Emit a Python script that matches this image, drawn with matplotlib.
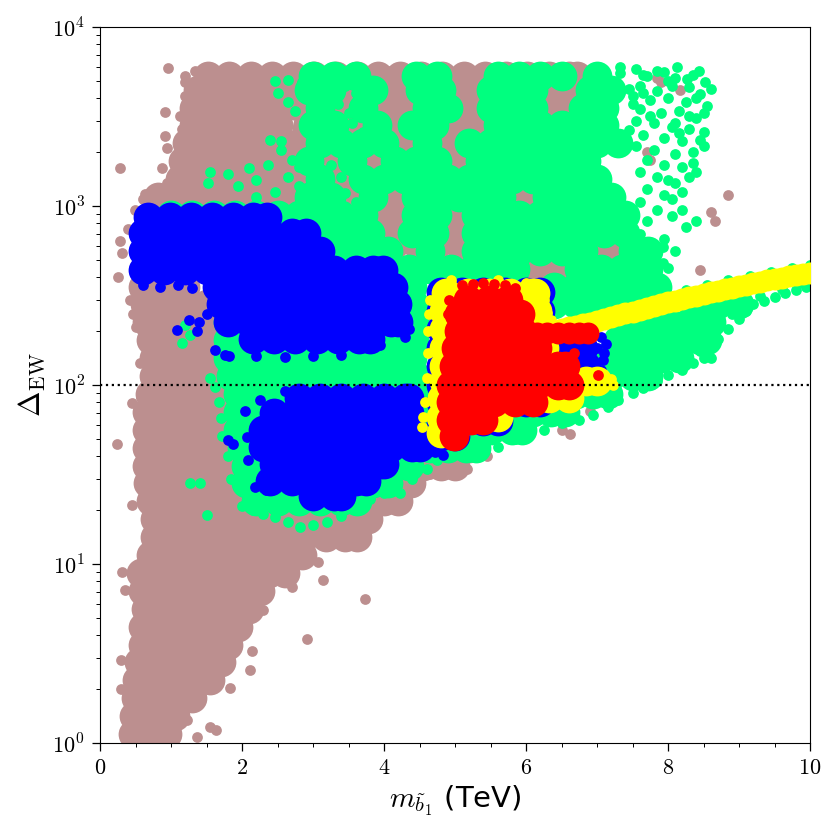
import matplotlib
matplotlib.use("Agg")
import matplotlib.pyplot as plt

plt.rcParams["mathtext.fontset"] = "cm"
plt.rcParams["font.family"] = ["DejaVu Sans"]

BROWN = "#bc8f8f"
GREEN = "#00ff7f"
BLUE = "#0000ff"
YELLOW = "#ffff00"
RED = "#ff0000"

x_ticks = [0, 2, 4, 6, 8, 10]
x_tick_labels = [r"$0$", r"$2$", r"$4$", r"$6$", r"$8$", r"$10$"]
y_ticks = [1, 10, 100, 1000, 10000]
y_tick_labels = [r"$10^{0}$", r"$10^{1}$", r"$10^{2}$", r"$10^{3}$", r"$10^{4}$"]
delta_cut = 100

# ---------------- brown (all points) ----------------
brown_dense_rows = [
    (1.12, [0.46, 0.76, 0.95]),
    (1.41, [0.48, 0.78, 1.05]),
    (1.78, [0.5, 0.8, 1.1, 1.3]),
    (2.24, [0.52, 0.82, 1.12, 1.42, 1.55]),
    (2.82, [0.55, 0.85, 1.15, 1.45, 1.7]),
    (3.55, [0.6, 0.9, 1.2, 1.5, 1.8]),
    (4.47, [0.6, 0.9, 1.2, 1.5, 1.8, 1.95]),
    (5.62, [0.65, 0.95, 1.25, 1.55, 1.85, 2.1]),
    (7.08, [0.6, 0.9, 1.2, 1.5, 1.8, 2.1, 2.25]),
    (8.91, [0.58, 0.88, 1.18, 1.48, 1.78, 2.08, 2.38, 2.6]),
    (11.2, [0.72, 1.02, 1.32, 1.62, 1.92, 2.22, 2.52, 2.85]),
    (14.1, [0.78, 1.08, 1.38, 1.68, 1.98, 2.28, 2.58, 2.88, 3.18, 3.45, 3.62]),
    (17.8, [0.78, 1.08, 1.38, 1.68, 1.98, 2.28, 2.58, 2.88, 3.18, 3.48, 3.78]),
    (22.4, [0.72, 1.02, 1.32, 1.62, 1.92, 2.22, 2.52, 2.82, 3.12, 3.42, 3.72, 4.0, 4.2]),
    (28.2, [0.68, 0.98, 1.28, 1.58, 1.88, 2.1, 3.9, 4.2, 4.38]),
    (35.5, [0.66, 0.96, 1.26, 1.56, 1.86, 4.55, 4.8, 5.0]),
    (44.7, [0.66, 0.96, 1.26, 1.56, 1.8, 5.2]),
    (56.2, [0.66, 0.96, 1.26, 1.56, 1.76]),
    (70.8, [0.66, 0.96, 1.26, 1.56, 1.76]),
    (89.1, [0.7, 1.0, 1.3, 1.6, 1.76]),
    (112, [0.76, 1.06, 1.36, 1.62]),
    (141, [0.76, 1.06, 1.36, 1.62]),
    (178, [0.72, 1.02, 1.32, 1.6]),
    (224, [0.66, 0.96, 1.26, 1.56]),
    (282, [0.63, 0.93, 1.23, 1.5]),
    (355, [0.6, 0.9, 1.2]),
    (1122, [0.82, 1.12, 1.42, 1.72, 2.02, 2.32, 2.6]),
    (1413, [1.12, 1.42, 1.72, 2.02, 2.32, 2.6]),
    (1778, [1.17, 1.47, 1.77, 2.07, 2.37, 2.6]),
    (2239, [1.22, 1.52, 1.82, 2.12, 2.42, 2.6]),
    (2818, [1.32, 1.62, 1.92, 2.22, 2.5]),
    (3548, [1.32, 1.62, 1.92, 2.22, 2.5]),
    (4467, [1.38, 1.68, 1.98, 2.28, 2.55]),
    (5300, [1.52, 1.82, 2.12, 2.42, 2.72, 3.02, 3.32, 3.62, 3.92, 4.22, 4.52,
             4.82, 5.12, 5.42, 5.72, 6.02, 6.32, 6.6, 6.72]),
]
brown_bulk_rows = [
    (4300, [2.8, 3.4, 4.0, 4.6, 5.2, 5.8, 6.4, 6.6]),
    (2700, [3.1, 3.7, 4.3, 4.9, 5.5, 6.1, 6.6]),
    (1700, [2.8, 3.4, 4.0, 4.6, 5.2, 5.8, 6.4, 6.6]),
    (1080, [3.1, 3.7, 4.3, 4.9, 5.5, 6.1, 6.6]),
    (680, [3.4, 4.0, 4.6, 5.2, 5.8, 6.4, 7.0]),
    (430, [6.1, 6.6, 7.1]),
]
brown_sparse_x = [0.96, 1.34, 1.2, 1.2, 1.2, 0.92, 1.13, 1.16, 0.92, 0.95, 0.87, 0.28, 0.95,
                  0.63, 0.73, 0.49, 0.6, 0.39, 0.31, 0.28, 0.25, 0.42, 0.47, 0.5, 0.68, 0.56,
                  0.24, 0.31, 0.35, 0.3, 0.3, 0.45, 0.58, 0.45,
                  1.36, 1.64, 1.55, 1.22, 1.83, 2.11, 2.14, 2.92, 3.73, 2.7, 3.07, 3.14, 2.3,
                  6.6, 7.85, 7.9, 8.17, 8.85, 8.6, 8.66, 8.45, 7.6, 7.75, 7.85, 7.56, 7.1, 7.3,
                  6.9, 6.5, 6.62, 5.17, 5.35, 4.5, 4.65, 4.83, 5.45, 7.75, 7.7]
brown_sparse_y = [5900, 5700, 5300, 4900, 4100, 3350, 3200, 2700, 2450, 2100, 1630, 1630, 1340,
                  1160, 1160, 950, 1100, 740, 546, 640, 400, 300, 250, 211, 186, 133,
                  47, 9.0, 7.2, 2.0, 2.9, 21.3, 86, 79,
                  1.08, 1.18, 1.23, 1.35, 2.03, 2.56, 3.27, 3.8, 6.4, 7.4, 10.3, 8.1, 5.5,
                  6000, 5200, 4900, 4450, 1150, 930, 820, 440, 420, 380, 350, 520, 470, 430,
                  72, 56, 53, 34, 41, 35, 32, 36, 40, 1800, 2000]

# ---------------- green ----------------
green_dense_rows = [
    (22.4, [2.2, 2.5, 2.8, 3.1, 3.4, 3.62]),
    (28.2, [2.05, 2.35, 2.65, 2.95, 3.25, 3.55, 3.85, 4.05]),
    (35.5, [2.05, 2.35, 2.65, 2.95, 3.25, 3.55, 3.85, 4.1, 4.35]),
    (44.7, [2.0, 2.3, 2.6, 2.9, 3.2, 3.5, 3.8, 4.1, 4.4, 4.65, 4.9, 5.15, 5.3]),
    (56.2, [1.95, 2.25, 2.55, 2.85, 3.15, 3.45, 3.75, 4.05, 4.35, 4.65, 4.95, 5.25,
            5.5, 5.8, 5.95]),
    (70.8, [1.95, 2.25, 2.55, 2.85, 3.15, 3.45, 3.75, 4.05, 4.35, 4.65, 4.95, 5.25,
            5.55, 5.85, 6.1, 6.35, 6.55]),
    (89.1, [1.95, 2.25, 2.55, 2.85, 3.15, 3.45, 3.75, 4.05, 4.35, 4.65, 4.95, 5.25,
            5.55, 5.85, 6.15, 6.45, 6.7, 6.95, 7.15]),
    (112, [1.85, 2.15, 2.45, 2.75, 3.05, 3.35, 3.65, 3.95, 4.25, 4.45, 6.9, 7.2, 7.5, 7.72]),
    (141, [1.8, 2.1, 2.4, 2.7, 3.0, 3.3, 3.6, 3.9, 4.2, 4.4, 7.0, 7.3, 7.6, 7.9, 8.15]),
    (178, [1.8, 2.0, 4.2, 4.42, 7.3, 7.6, 7.9, 8.2, 8.45, 8.55]),
    (224, [1.8, 4.42, 7.4, 7.7, 8.0, 8.3, 8.6]),
    (282, [1.75, 4.42, 6.4, 6.7, 7.0, 7.3, 7.6, 8.4, 8.7, 9.0]),
    (355, [4.4, 6.4, 6.7, 7.0, 7.3, 7.6, 7.85]),
    (447, [4.35, 4.65, 4.95, 5.25, 5.55, 5.85, 6.75, 7.05, 7.35, 7.72]),
    (562, [3.45, 3.75, 4.05, 4.65, 5.3, 5.6, 5.9, 6.2, 6.5, 6.8, 7.5, 7.72]),
    (708, [3.2, 3.5, 3.8, 4.4, 4.7, 5.3, 5.6, 5.9, 6.2, 6.5, 6.8, 7.1, 7.4]),
    (891, [1.0, 1.3, 1.6, 1.9, 2.2, 2.5, 2.8, 3.1, 3.4, 3.7, 4.45, 4.75, 5.3, 5.6,
           5.9, 6.2, 6.5, 6.8, 7.1, 7.4]),
    (1122, [2.95, 3.25, 3.85, 4.45, 4.75, 5.05, 5.35, 5.65, 6.3, 6.6, 6.9, 7.2]),
    (1413, [3.1, 3.7, 4.0, 4.3, 4.6, 4.9, 5.2, 5.5, 5.8, 6.1, 6.4, 6.7, 7.0]),
    (1778, [2.95, 3.55, 4.15, 4.45, 4.75, 5.35, 5.65, 5.95, 6.25, 6.55, 6.85]),
    (2239, [3.1, 3.4, 3.7, 4.0, 4.6, 5.2, 5.5, 5.8, 6.1, 6.4, 6.7, 7.0, 7.3]),
    (2818, [3.0, 3.3, 3.9, 4.4, 4.7, 5.6, 5.9, 6.2, 6.5, 6.8, 7.1]),
    (3548, [3.1, 3.7, 4.6, 4.9, 5.5, 5.8, 6.1, 6.8, 7.1]),
    (4467, [2.95, 3.25, 3.85, 4.5, 4.8, 5.5, 5.8, 6.1, 6.9, 7.2]),
    (5300, [3.0, 3.3, 3.6, 4.45, 4.75, 5.6, 5.9, 6.2, 6.5, 7.0]),
]
green_sparse_x = [2.0, 2.15, 2.3, 2.47, 2.65, 2.82, 3.0, 3.2, 3.4, 3.6, 3.8, 4.0, 4.23, 4.4,
                  4.6, 4.75, 4.9, 5.1, 5.35, 5.6, 5.85, 6.05, 6.25, 6.5, 6.75, 6.95, 7.15,
                  7.3, 7.5, 7.65, 7.85, 8.0, 8.2, 8.35, 8.5, 8.6, 8.45, 8.7, 8.85, 9.0, 9.1,
                  9.2, 9.35, 9.5, 9.65, 9.8, 9.95, 9.3, 9.6, 9.9, 8.9, 9.05,
                  1.27, 1.41, 1.5, 1.2, 1.27, 1.15,
                  1.85, 1.8, 1.72, 1.7, 1.68, 1.62, 1.55,
                  1.55, 1.52, 1.8, 1.95, 2.1, 2.2, 2.2, 2.37, 2.46, 2.65, 2.8, 2.4, 2.55,
                  2.55, 2.7, 2.8, 2.46, 2.65, 2.85, 2.5, 2.65, 2.75,
                  3.45, 3.6, 3.25, 3.4, 3.55, 3.7, 3.35, 3.5, 3.6, 3.45,
                  7.32, 7.32, 7.65, 7.85, 8.12, 8.27, 8.43, 8.52, 8.5, 8.5, 8.35, 8.2, 8.4,
                  7.93, 7.93, 8.05, 8.0, 8.3, 8.4, 8.1, 7.5,
                  7.55, 7.7, 7.95, 8.1, 7.6, 7.85, 8.05, 8.3, 7.5, 7.75, 8.0, 8.25, 8.45,
                  7.6, 7.9, 8.15, 8.4, 7.55, 7.8, 8.05, 8.3, 7.65, 7.95, 8.2, 8.45, 7.55,
                  7.8, 8.1, 8.35, 7.7, 7.95, 8.2, 7.6, 7.85, 8.1, 8.3, 7.7, 7.95, 8.2, 7.6,
                  7.85, 8.05, 7.7, 8.25, 7.6, 7.95, 8.1, 7.8, 8.0,
                  7.45, 7.5, 7.45, 8.55, 8.5, 8.6, 8.35, 8.0, 7.75, 8.15, 7.65, 8.4,
                  7.95, 8.25, 8.55, 8.85, 9.15, 9.45, 9.75, 10.0]
green_sparse_y = [21, 20, 19, 18.3, 17.2, 16, 16.5, 17.2, 18.5, 20, 23, 25, 25, 30,
                  34, 38, 40, 41, 43, 45, 50, 54, 56, 61, 64, 68, 75,
                  82, 90, 96, 105, 114, 122, 132, 141, 141, 155, 180, 205, 235, 260,
                  285, 295, 310, 325, 340, 352, 315, 345, 370, 250, 275,
                  28.3, 28.3, 18.8, 215, 190, 172,
                  30, 40, 52, 65, 80, 98, 110,
                  1540, 1340, 1500, 1300, 1630, 1400, 1120, 1700, 1200, 1450, 1300, 2350, 2300,
                  2050, 1800, 1650, 5000, 5050, 4900, 4300, 3800, 3400,
                  1180, 1050, 1700, 1450, 2900, 2600, 3700, 3300, 4300, 4700,
                  6000, 5500, 5400, 5700, 6000, 5100, 5700, 4900, 2600, 2150, 1740, 950, 820,
                  590, 480, 1100, 1400, 3200, 4000, 2900, 600,
                  5800, 5300, 5600, 5200, 4700, 4400, 4700, 4600, 4100, 3900, 4000, 3800, 4200,
                  3500, 3300, 3400, 3100, 3000, 2900, 2750, 2700, 2500, 2400, 2300, 2350, 2150,
                  2050, 1950, 2000, 1800, 1700, 1650, 1550, 1450, 1350, 1450, 1250, 1150, 1200, 1050,
                  950, 880, 820, 760, 700, 650, 560, 520, 450,
                  4500, 3700, 2650, 3600, 3300, 4500, 5400, 5000, 3200, 2550, 4300, 1550,
                  318, 340, 361, 385, 407, 430, 452, 470]

# ---------------- blue ----------------
blue_dense_rows = [
    (870, [0.68, 0.98, 1.28, 1.58, 1.88, 2.15, 2.35]),
    (708, [0.6, 0.9, 1.2, 1.5, 1.8, 2.1, 2.4, 2.7, 2.9]),
    (562, [0.6, 0.9, 1.2, 1.5, 1.8, 2.1, 2.4, 2.7, 2.95, 3.1]),
    (440, [0.6, 0.9, 1.2, 1.5, 1.8, 2.1, 2.4, 2.7, 3.0, 3.3, 3.6, 3.85, 3.98]),
    (355, [1.65, 1.95, 2.25, 2.55, 2.85, 3.15, 3.45, 3.75, 4.0, 4.12]),
    (282, [1.7, 2.0, 2.3, 2.6, 2.9, 3.2, 3.5, 3.8, 4.05, 4.18]),
    (224, [1.8, 2.1, 2.4, 2.7, 3.0, 3.3, 3.6, 3.9, 4.1, 4.2]),
    (180, [2.15, 2.45, 2.75, 3.05, 3.35, 3.65, 3.8]),
    (85, [2.8, 3.1, 3.4, 3.7, 4.0, 4.3, 4.35]),
    (70, [2.45, 2.75, 3.05, 3.35, 3.65, 3.95, 4.25, 4.35]),
    (56, [2.3, 2.6, 2.9, 3.2, 3.5, 3.8, 4.1, 4.4]),
    (45, [2.3, 2.6, 2.9, 3.2, 3.5, 3.8, 4.1, 4.4, 4.5]),
    (36, [2.45, 2.75, 3.05, 3.35, 3.65, 3.95, 4.0]),
    (29, [2.4, 2.7, 3.0, 3.3, 3.6, 3.75]),
    (24, [3.0, 3.3, 3.4]),
    (330, [4.8, 5.1, 5.4, 5.7, 6.0, 6.2]),
    (260, [4.8, 5.1, 5.4, 5.7, 6.0, 6.2]),
    (205, [4.8, 5.1, 5.4, 5.7, 6.0, 6.2]),
    (160, [4.8, 5.1, 5.4, 5.7, 6.0, 6.3, 6.55, 6.8]),
    (128, [4.8, 5.1, 5.4, 5.7, 6.0, 6.3, 6.6, 6.85]),
    (100, [4.8, 5.1, 5.4, 5.7, 6.0, 6.3, 6.5]),
    (80, [4.8, 5.1, 5.4, 5.7, 6.0, 6.2]),
    (63, [4.8, 5.1, 5.4, 5.6]),
    (52, [4.8, 5.0]),
]
blue_sparse_x = [1.08, 1.37, 1.62, 1.76, 1.82, 1.5, 1.4, 1.25, 0.6, 0.85, 1.1, 1.3, 4.3, 4.35,
                 3.95, 3.4, 2.2, 2.6, 3.0,
                 1.87, 2.07, 2.08, 2.18, 2.34, 1.8, 2.04, 2.25, 2.6, 4.83, 4.72,
                 7.05, 7.12, 7.08, 7.05, 7.0, 7.1]
blue_sparse_y = [203, 200, 157, 147, 145, 250, 225, 230, 360, 355, 360, 350, 185, 205,
                 168, 147, 145, 143, 146,
                 47, 51, 38, 27, 26, 49, 72, 82, 92, 40.5, 42,
                 186, 170, 138, 121, 160, 150]

# ---------------- yellow ----------------
yellow_dense_rows = [
    (325, [4.88, 5.18, 5.48, 5.78, 6.05, 6.12]),
    (260, [4.85, 5.15, 5.45, 5.75, 6.0, 6.15]),
    (205, [4.85, 5.15, 5.45, 5.75, 6.0, 6.2]),
    (160, [4.85, 5.15, 5.45, 5.75, 6.0, 6.25]),
    (128, [4.85, 5.15, 5.45, 5.75, 6.05, 6.3]),
    (105, [4.85, 5.15, 5.45, 5.75, 6.05, 6.35, 6.65, 6.85, 7.0]),
    (85, [4.82, 5.12, 5.42, 5.72, 6.02, 6.32, 6.6]),
    (66, [4.8, 5.1, 5.4, 5.6]),
    (54, [4.8, 4.98]),
]
yellow_sparse_x = [4.65, 4.63, 4.62, 4.62, 4.6, 4.58, 4.55, 4.53, 6.3, 6.35, 6.25, 6.2,
                   7.2, 7.23, 4.95, 5.6, 6.0]
yellow_sparse_y = [300, 250, 200, 150, 110, 80, 66, 58, 252, 232, 300, 340,
                   108, 100, 385, 388, 370]
band_x = [6.2, 6.3, 6.4, 6.5, 6.6, 6.7, 6.8, 6.9, 7.0, 7.1, 7.2, 7.3, 7.4, 7.5, 7.6,
          7.7, 7.8, 7.9, 8.0, 8.1, 8.2, 8.3, 8.4, 8.5, 8.6, 8.7, 8.8, 8.9, 9.0, 9.1,
          9.2, 9.3, 9.4, 9.5, 9.6, 9.7, 9.8, 9.9, 10.0, 10.1]
band_y = [193, 197, 201, 205, 210, 214, 219, 223, 228, 233, 239, 245, 251, 257, 263,
          270, 276, 283, 289, 296, 302, 309, 316, 323, 329, 336, 343, 350, 356, 363,
          370, 377, 384, 390, 397, 404, 411, 418, 425, 432]

# ---------------- red ----------------
red_dense_rows = [
    (300, [5.18, 5.48, 5.75]),
    (250, [5.05, 5.35, 5.65, 5.92]),
    (200, [5.05, 5.35, 5.65, 5.95]),
    (160, [5.02, 5.32, 5.62, 5.92, 6.15]),
    (128, [4.98, 5.28, 5.58, 5.88, 6.18, 6.45, 6.55]),
    (100, [4.95, 5.25, 5.55, 5.85, 6.15, 6.45, 6.6]),
    (80, [4.95, 5.25, 5.55, 5.85, 6.1]),
    (64, [4.95, 5.22, 5.4]),
    (52, [4.98]),
]
red_tongue_x = [6.15, 6.3, 6.45, 6.6, 6.75, 6.88]
red_tongue_y = [196, 195, 195, 195, 195, 194]
red_sparse_x = [6.67, 7.02, 5.1, 5.4, 5.7, 5.25, 5.55, 5.85, 4.92, 4.9]
red_sparse_y = [150, 113, 362, 372, 362, 368, 368, 350, 300, 250]


def unpack(rows):
    xs, ys = [], []
    for yv, xl in rows:
        xs.extend(xl)
        ys.extend([yv] * len(xl))
    return xs, ys


S_SMALL = 60
S_DENSE = 460
S_BULK = 1600
S_BAND = 250

fig = plt.figure(figsize=(8.4, 8.4), dpi=100)
ax = fig.add_axes([100 / 840, 97 / 840, 710 / 840, 716 / 840])


def sc(x, y, s, c, z):
    ax.scatter(x, y, s=s, c=c, linewidths=0, zorder=z)


bx, by = unpack(brown_bulk_rows)
sc(bx, by, S_BULK, BROWN, 1)
bx, by = unpack(brown_dense_rows)
sc(bx, by, S_DENSE, BROWN, 1)
sc(brown_sparse_x, brown_sparse_y, S_SMALL, BROWN, 1)

gx, gy = unpack(green_dense_rows)
sc(gx, gy, S_DENSE, GREEN, 2)
sc(green_sparse_x, green_sparse_y, S_SMALL, GREEN, 2)

ux, uy = unpack(blue_dense_rows)
sc(ux, uy, S_DENSE, BLUE, 3)
sc(blue_sparse_x, blue_sparse_y, S_SMALL, BLUE, 3)

yx, yy = unpack(yellow_dense_rows)
sc(yx, yy, S_DENSE, YELLOW, 4)
sc(yellow_sparse_x, yellow_sparse_y, S_SMALL, YELLOW, 4)
sc(band_x, band_y, S_BAND, YELLOW, 4)

rx, ry = unpack(red_dense_rows)
sc(rx, ry, S_DENSE, RED, 5)
sc(red_tongue_x, red_tongue_y, S_BAND, RED, 5)
sc(red_sparse_x, red_sparse_y, S_SMALL, RED, 5)

ax.axhline(delta_cut, color="black", linestyle=":", linewidth=1.6, zorder=10)

ax.set_xlim(0, 10)
ax.set_yscale("log")
ax.set_ylim(1, 1e4)
ax.set_xticks(x_ticks)
ax.set_xticklabels(x_tick_labels)
ax.set_xticks([0.5 * i for i in range(21)], minor=True)
ax.set_yticks(y_ticks)
ax.set_yticklabels(y_tick_labels)
ax.tick_params(axis="both", which="major", labelsize=16, length=6, width=0.9, pad=5)
ax.tick_params(axis="both", which="minor", length=3, width=0.7)
ax.set_xlabel(r"$m_{\tilde{b}_1}$ (TeV)", fontsize=21, labelpad=4)
ax.set_ylabel(r"$\Delta_{\rm EW}$", fontsize=22, labelpad=4)

fig.savefig("out.png", dpi=100)
